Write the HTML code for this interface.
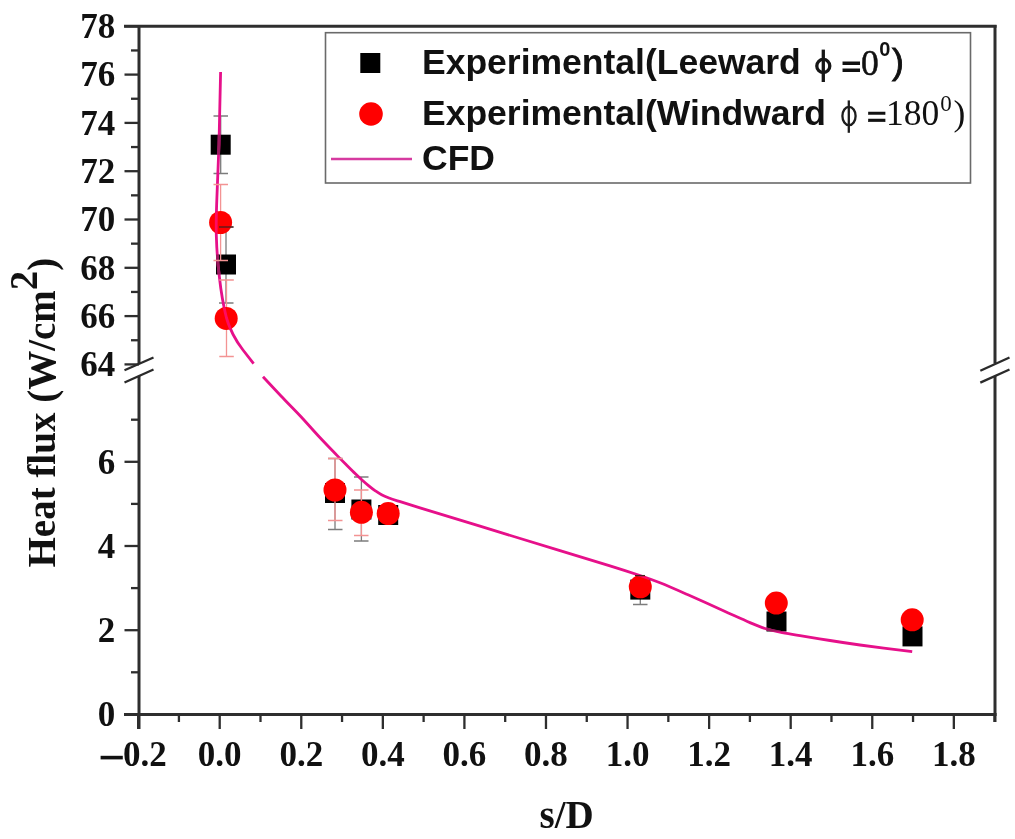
<!DOCTYPE html>
<html>
<head>
<meta charset="utf-8">
<title>Heat flux vs s/D</title>
<style>
html,body{margin:0;padding:0;background:#fff;}
body{width:1015px;height:839px;overflow:hidden;font-family:"Liberation Sans",sans-serif;}
svg{display:block;filter:blur(0.45px);}
.tl{font-family:"Liberation Serif",serif;font-weight:bold;font-size:35px;fill:#111;}
.at{font-family:"Liberation Serif",serif;font-weight:bold;font-size:39px;fill:#111;}
.lg{font-family:"Liberation Sans",sans-serif;font-weight:bold;font-size:35.5px;fill:#111;}
.lgs{font-family:"Liberation Serif",serif;font-weight:normal;font-size:35.5px;fill:#111;}
.lgb{font-family:"Liberation Serif",serif;font-weight:bold;font-size:35.5px;fill:#111;}
</style>
</head>
<body>
<svg width="1015" height="839" viewBox="0 0 1015 839">
<rect x="0" y="0" width="1015" height="839" fill="#ffffff"/>

<!-- axes frame -->
<g stroke="#2e2e2e" stroke-width="3" fill="none" stroke-linecap="butt">
  <line x1="124" y1="26.3" x2="996.6" y2="26.3"/>
  <line x1="139" y1="25" x2="139" y2="364"/>
  <line x1="139" y1="376" x2="139" y2="729"/>
  <line x1="995" y1="25" x2="995" y2="363.5"/>
  <line x1="995" y1="376" x2="995" y2="722"/>
  <line x1="124" y1="714.5" x2="996.6" y2="714.5"/>
</g>

<!-- y ticks -->
<g stroke="#2e2e2e" stroke-width="2.3">
  <line x1="124.5" y1="26.3" x2="139" y2="26.3"/>
  <line x1="131" y1="50.45" x2="139" y2="50.45"/>
  <line x1="124.5" y1="74.6" x2="139" y2="74.6"/>
  <line x1="131" y1="98.75" x2="139" y2="98.75"/>
  <line x1="124.5" y1="122.9" x2="139" y2="122.9"/>
  <line x1="131" y1="147.05" x2="139" y2="147.05"/>
  <line x1="124.5" y1="171.2" x2="139" y2="171.2"/>
  <line x1="131" y1="195.35" x2="139" y2="195.35"/>
  <line x1="124.5" y1="219.5" x2="139" y2="219.5"/>
  <line x1="131" y1="243.65" x2="139" y2="243.65"/>
  <line x1="124.5" y1="267.8" x2="139" y2="267.8"/>
  <line x1="131" y1="291.95" x2="139" y2="291.95"/>
  <line x1="124.5" y1="316.1" x2="139" y2="316.1"/>
  <line x1="131" y1="340.25" x2="139" y2="340.25"/>
  <line x1="124.5" y1="364.4" x2="139" y2="364.4"/>
  <line x1="124.5" y1="714.4" x2="139" y2="714.4"/>
  <line x1="131" y1="672.3" x2="139" y2="672.3"/>
  <line x1="124.5" y1="630.2" x2="139" y2="630.2"/>
  <line x1="131" y1="588.1" x2="139" y2="588.1"/>
  <line x1="124.5" y1="546" x2="139" y2="546"/>
  <line x1="131" y1="503.9" x2="139" y2="503.9"/>
  <line x1="124.5" y1="461.8" x2="139" y2="461.8"/>
  <line x1="131" y1="419.7" x2="139" y2="419.7"/>
</g>
<!-- x ticks -->
<g stroke="#2e2e2e" stroke-width="2.3">
  <line x1="138.13" y1="714.5" x2="138.13" y2="729"/>
  <line x1="178.91" y1="714.5" x2="178.91" y2="722"/>
  <line x1="219.7" y1="714.5" x2="219.7" y2="729"/>
  <line x1="260.49" y1="714.5" x2="260.49" y2="722"/>
  <line x1="301.27" y1="714.5" x2="301.27" y2="729"/>
  <line x1="342.05" y1="714.5" x2="342.05" y2="722"/>
  <line x1="382.84" y1="714.5" x2="382.84" y2="729"/>
  <line x1="423.62" y1="714.5" x2="423.62" y2="722"/>
  <line x1="464.41" y1="714.5" x2="464.41" y2="729"/>
  <line x1="505.19" y1="714.5" x2="505.19" y2="722"/>
  <line x1="545.98" y1="714.5" x2="545.98" y2="729"/>
  <line x1="586.76" y1="714.5" x2="586.76" y2="722"/>
  <line x1="627.55" y1="714.5" x2="627.55" y2="729"/>
  <line x1="668.34" y1="714.5" x2="668.34" y2="722"/>
  <line x1="709.12" y1="714.5" x2="709.12" y2="729"/>
  <line x1="749.9" y1="714.5" x2="749.9" y2="722"/>
  <line x1="790.69" y1="714.5" x2="790.69" y2="729"/>
  <line x1="831.47" y1="714.5" x2="831.47" y2="722"/>
  <line x1="872.26" y1="714.5" x2="872.26" y2="729"/>
  <line x1="913.04" y1="714.5" x2="913.04" y2="722"/>
  <line x1="953.83" y1="714.5" x2="953.83" y2="729"/>
  <line x1="994.62" y1="714.5" x2="994.62" y2="722"/>
</g>

<!-- break marks -->
<g stroke="#2a2a2a" stroke-width="2.3">
  <line x1="124.5" y1="370.3" x2="153.5" y2="357.5"/>
  <line x1="124.5" y1="382.5" x2="153.5" y2="369.5"/>
  <line x1="980.3" y1="370.7" x2="1009.5" y2="357.5"/>
  <line x1="980.3" y1="382.6" x2="1009.5" y2="369.5"/>
</g>

<g>
  <text x="115.3" y="38.1" class="tl" text-anchor="end">78</text>
  <text x="115.3" y="86.4" class="tl" text-anchor="end">76</text>
  <text x="115.3" y="134.7" class="tl" text-anchor="end">74</text>
  <text x="115.3" y="183" class="tl" text-anchor="end">72</text>
  <text x="115.3" y="231.3" class="tl" text-anchor="end">70</text>
  <text x="115.3" y="279.6" class="tl" text-anchor="end">68</text>
  <text x="115.3" y="327.9" class="tl" text-anchor="end">66</text>
  <text x="115.3" y="376.2" class="tl" text-anchor="end">64</text>
  <text x="115.3" y="726.2" class="tl" text-anchor="end">0</text>
  <text x="115.3" y="642" class="tl" text-anchor="end">2</text>
  <text x="115.3" y="557.8" class="tl" text-anchor="end">4</text>
  <text x="115.3" y="473.6" class="tl" text-anchor="end">6</text>
  <text x="123" y="766.3" class="tl" text-anchor="start">0.2</text>
  <text x="219.7" y="766.3" class="tl" text-anchor="middle">0.0</text>
  <text x="301.27" y="766.3" class="tl" text-anchor="middle">0.2</text>
  <text x="382.84" y="766.3" class="tl" text-anchor="middle">0.4</text>
  <text x="464.41" y="766.3" class="tl" text-anchor="middle">0.6</text>
  <text x="545.98" y="766.3" class="tl" text-anchor="middle">0.8</text>
  <text x="627.55" y="766.3" class="tl" text-anchor="middle">1.0</text>
  <text x="709.12" y="766.3" class="tl" text-anchor="middle">1.2</text>
  <text x="790.69" y="766.3" class="tl" text-anchor="middle">1.4</text>
  <text x="872.26" y="766.3" class="tl" text-anchor="middle">1.6</text>
  <text x="953.83" y="766.3" class="tl" text-anchor="middle">1.8</text>
</g>
<rect x="100.6" y="755.8" width="22.2" height="3.6" fill="#111"/>

<!-- axis titles -->
<text class="at" x="566.7" y="828" text-anchor="middle">s/D</text>
<text class="at" transform="translate(55,567.5) rotate(-90)">Heat flux (W/cm<tspan dy="-18.5">2</tspan><tspan dy="18.5">)</tspan></text>

<!-- black series error bars -->
<g stroke="#7c7c7c" stroke-width="1.3" fill="none">
  <path d="M220.7 116V173.5M213.5 116h14.5M213.5 173.5h14.5"/>
  <path d="M226 227V303M219 227h14.5M219 303h14.5"/>
  <path d="M335 458.5V529.5M328 458.5h14.5M328 529.5h14.5"/>
  <path d="M361.4 477V541M354 477h14.5M354 541h14.5"/>
  <path d="M640.3 575V604.5M633 604.5h14.5"/>
</g>
<!-- black squares -->
<g fill="#000">
  <rect x="210.7" y="134.7" width="20" height="20"/>
  <rect x="216" y="254.5" width="20" height="20"/>
  <rect x="325" y="483" width="20" height="20"/>
  <rect x="351.4" y="499.5" width="20" height="20"/>
  <rect x="378.2" y="505" width="20" height="20"/>
  <rect x="630.3" y="579.6" width="20" height="20"/>
  <rect x="766.5" y="611.5" width="20" height="20"/>
  <rect x="902.5" y="626.4" width="20" height="20"/>
</g>

<!-- CFD line -->
<defs>
  <clipPath id="sq">
    <rect x="210.7" y="134.7" width="20" height="20"/>
    <rect x="216" y="254.5" width="20" height="20"/>
    <rect x="325" y="483" width="20" height="20"/>
    <rect x="351.4" y="499.5" width="20" height="20"/>
    <rect x="378.2" y="505" width="20" height="20"/>
    <rect x="630.3" y="579.6" width="20" height="20"/>
    <rect x="766.5" y="611.5" width="20" height="20"/>
    <rect x="902.5" y="626.4" width="20" height="20"/>
  </clipPath>
<clipPath id="cc">
    <circle cx="220.6" cy="222.5" r="11.5"/><circle cx="226.2" cy="318.4" r="11.5"/><circle cx="335" cy="490" r="11.5"/><circle cx="361.4" cy="512.3" r="11.5"/><circle cx="388.2" cy="513.6" r="11.5"/><circle cx="640.3" cy="586.8" r="11.5"/><circle cx="776.3" cy="603.1" r="11.5"/><circle cx="912.2" cy="619.8" r="11.5"/>
  </clipPath>
  <path id="cfd1" d="M220.6 72 L219 144 L217 195 C216.3 212 216 222 216.3 235 C216.8 252 218 266 219.4 277 C221 292 223.5 306 226.5 318 C230 330 236 341 243 350 L253.6 363.6"/>
  <path id="cfd2" d="M263.0 376.7 C266.0 379.9 274.8 389.4 281.0 396.0 C287.2 402.6 294.1 409.4 300.3 416.0 C306.5 422.6 311.9 428.9 318.0 435.5 C324.1 442.1 332.2 450.4 337.0 455.4 C341.8 460.4 343.9 462.4 347.0 465.5 C350.1 468.6 352.9 471.4 355.4 473.8 C357.9 476.2 359.8 478.0 362.0 480.0 C364.2 482.0 366.3 483.8 368.5 485.6 C370.7 487.4 372.8 489.1 375.0 490.6 C377.2 492.1 379.3 493.6 381.6 494.8 C383.9 496.0 386.4 497.0 389.0 498.0 C391.6 499.0 392.2 499.2 397.4 500.8 C402.6 502.4 406.2 503.6 420.0 507.8 C433.8 512.0 456.7 519.1 480.0 526.2 C503.3 533.3 538.3 544.0 560.0 550.6 C581.7 557.2 596.7 561.6 610.0 565.8 C623.3 569.9 631.7 572.7 640.0 575.5 C648.3 578.3 652.0 579.6 660.0 582.8 C668.0 586.0 677.3 590.1 688.0 594.8 C698.7 599.5 713.7 606.4 724.0 611.0 C734.3 615.6 743.2 619.7 750.0 622.6 C756.8 625.5 760.0 626.9 765.0 628.5 C770.0 630.1 774.2 631.0 780.0 632.2 C785.8 633.4 791.7 634.2 800.0 635.6 C808.3 637.0 820.0 638.9 830.0 640.5 C840.0 642.1 846.3 643.1 860.0 645.0 C873.7 646.9 903.5 650.6 912.2 651.7"/>
</defs>
<g fill="none" stroke="#e6108a" stroke-width="2.8" stroke-linejoin="round" stroke-linecap="butt">
  <use href="#cfd1"/><use href="#cfd2"/>
</g>
<g fill="none" stroke="#9c1a5e" stroke-width="2.8" stroke-linejoin="round" clip-path="url(#sq)">
  <use href="#cfd1"/><use href="#cfd2"/>
</g>

<!-- red error bars -->
<g stroke="#f39393" stroke-width="1.3" fill="none">
  <path d="M220.6 184.5V260.5M213.5 184.5h14.5M213.5 260.5h14.5"/>
  <path d="M226.5 280V356.5M219.3 280h14.5M219.3 356.5h14.5"/>
  <path d="M335 458.5V520.5M328 458.5h14.5M328 520.5h14.5"/>
  <path d="M361.4 490V535.5M354 490h14.5M354 535.5h14.5"/>
</g>
<!-- red circles -->
<g fill="#ff0000">
  <circle cx="220.6" cy="222.5" r="11.5"/>
  <circle cx="226.2" cy="318.4" r="11.5"/>
  <circle cx="335" cy="490" r="11.5"/>
  <circle cx="361.4" cy="512.3" r="11.5"/>
  <circle cx="388.2" cy="513.6" r="11.5"/>
  <circle cx="640.3" cy="586.8" r="11.5"/>
  <circle cx="776.3" cy="603.1" r="11.5"/>
  <circle cx="912.2" cy="619.8" r="11.5"/>
</g>

<g fill="none" stroke="#ff0a62" stroke-width="2.8" clip-path="url(#cc)">
  <use href="#cfd1"/><use href="#cfd2"/>
</g>
<!-- black caps visible over circles -->
<g stroke="#4a2020" stroke-width="1.3">
  <path d="M219 227h14.5"/>
  <path d="M635 575.6h10"/>
</g>

<!-- legend -->
<rect x="325.5" y="32.7" width="645" height="150.3" fill="#fff" stroke="#6a6a6a" stroke-width="1.6"/>
<rect x="360.3" y="53" width="20" height="20" fill="#000"/>
<circle cx="371" cy="114" r="11.8" fill="#ff0000"/>
<line x1="331" y1="159" x2="412" y2="159" stroke="#d63aa0" stroke-width="2.7"/>
<text class="lg" x="422" y="74.3">Experimental(Leeward</text>
<g stroke="#161616" fill="none"><ellipse cx="823.3" cy="66" rx="6.5" ry="6.6" stroke-width="3.3"/><line x1="823.3" y1="49.6" x2="823.3" y2="82" stroke-width="3.3"/></g>
<text class="lgb" x="841.2" y="78.6" stroke="#111" stroke-width="1">=</text>
<text class="lgs" x="861" y="74.5" stroke="#111" stroke-width="0.5">0</text>
<text class="lg" x="879.2" y="56" style="font-size:20px">0</text>
<text class="lg" x="892" y="74.3" style="font-weight:normal" stroke="#111" stroke-width="0.9">)</text>
<text class="lg" x="422" y="124.8">Experimental(Windward</text>
<g stroke="#1c1c1c" fill="none"><ellipse cx="849" cy="116" rx="6.6" ry="9.2" stroke-width="2.3"/><line x1="848.8" y1="100.4" x2="848.8" y2="132.8" stroke-width="2.3"/></g>
<text class="lgb" x="866.8" y="129.2" stroke="#111" stroke-width="0.7">=</text>
<text class="lgs" x="886" y="124.8">180</text>
<text class="lgs" x="940.3" y="110.9" style="font-size:23px">0</text>
<text class="lgs" x="953.5" y="124.8">)</text>
<text class="lg" x="422" y="170.3">CFD</text>
</svg>
</body>
</html>
